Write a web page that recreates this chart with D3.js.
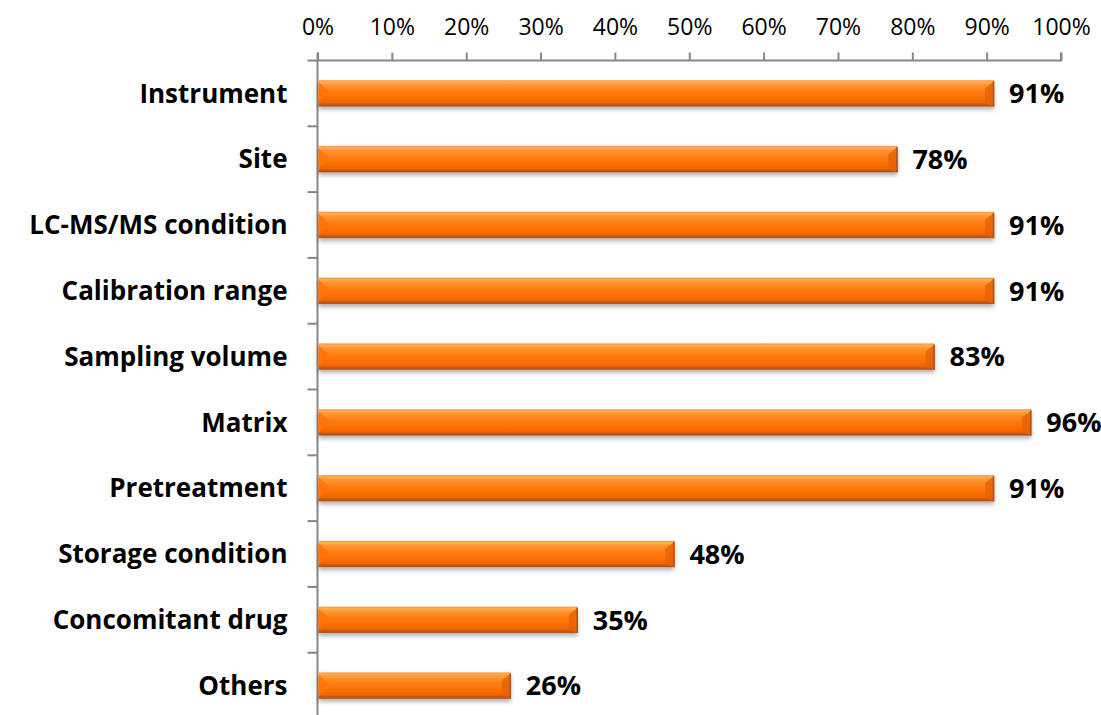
<!DOCTYPE html>
<html>
<head>
<meta charset="utf-8">
<script src="https://cdn.jsdelivr.net/npm/d3@7"></script>
<style>
  html, body { margin: 0; padding: 0; background: #fff; }
  svg { display: block; }
  text { font-family: "Open Sans", "Noto Sans", sans-serif; fill: #000; }
</style>
</head>
<body>
<svg id="chart" width="1101" height="715"></svg>
<script>
// Share of items reported, by category
const categories = [
  "Instrument", "Site", "LC-MS/MS condition", "Calibration range",
  "Sampling volume", "Matrix", "Pretreatment", "Storage condition",
  "Concomitant drug", "Others"
];
const percentages = [91, 78, 91, 91, 83, 96, 91, 48, 35, 26];
const tickValues = [0, 10, 20, 30, 40, 50, 60, 70, 80, 90, 100];

const svg = d3.select("#chart");
const margin = { left: 317.5, top: 60.5 };
const plotRight = 1061;
const bandStep = 65.8;
const plotBottom = margin.top + bandStep * categories.length;

const x = d3.scaleLinear().domain([0, 100]).range([margin.left, plotRight]);
const y = d3.scaleBand().domain(categories).range([margin.top, plotBottom]).paddingInner(0.6).paddingOuter(0.3);

// Bar shading: glossy orange with a dark lower edge
const defs = svg.append("defs");
const grad = defs.append("linearGradient")
  .attr("id", "barFill").attr("x1", 0).attr("y1", 0).attr("x2", 0).attr("y2", 1);
[
  [0, "#F78E3A"], [0.06, "#FFAE55"], [0.18, "#FF9534"], [0.42, "#FF7D12"],
  [0.7, "#FC6E02"], [0.86, "#EE6600"], [0.92, "#C65714"], [1, "#A4501E"]
].forEach(([o, c]) => grad.append("stop").attr("offset", o).attr("stop-color", c));

const shadow = defs.append("filter").attr("id", "barShadow")
  .attr("x", "-5%").attr("y", "-30%").attr("width", "110%").attr("height", "180%");
shadow.append("feDropShadow").attr("dx", 0).attr("dy", 3).attr("stdDeviation", 2)
  .attr("flood-color", "#000").attr("flood-opacity", 0.3);

// Top axis
const xAxis = d3.axisTop(x).tickValues(tickValues).tickFormat(d => d + "%").tickSize(8).tickPadding(18);
const gx = svg.append("g").attr("transform", `translate(0,${margin.top})`).call(xAxis);
gx.attr("font-family", null).attr("font-size", null);
gx.select(".domain").attr("stroke", "#878787").attr("stroke-width", 2).attr("d", `M${margin.left},-8V0H${plotRight}V-8`);
gx.selectAll(".tick line").attr("stroke", "#878787").attr("stroke-width", 2);
gx.selectAll(".tick text").style("font-size", "23px").attr("fill", "#000");

// Left axis: category separators
const gy = svg.append("g");
gy.append("line")
  .attr("x1", margin.left).attr("x2", margin.left)
  .attr("y1", margin.top).attr("y2", plotBottom)
  .attr("stroke", "#878787").attr("stroke-width", 2);
gy.selectAll("line.sep")
  .data(d3.range(categories.length + 1))
  .join("line").attr("class", "sep")
  .attr("x1", margin.left - 10).attr("x2", margin.left)
  .attr("y1", i => margin.top + i * bandStep).attr("y2", i => margin.top + i * bandStep)
  .attr("stroke", "#878787").attr("stroke-width", 2);

// Category labels
svg.append("g").selectAll("text")
  .data(categories)
  .join("text")
  .attr("x", margin.left - 30)
  .attr("y", d => y(d) + y.bandwidth() / 2)
  .attr("dy", "0.35em")
  .attr("text-anchor", "end")
  .style("font-size", "26px")
  .style("font-weight", "700")
  .text(d => d);

// Bars
const bars = svg.append("g").selectAll("g.bar")
  .data(categories.map((c, i) => ({ c, v: percentages[i] })))
  .join("g").attr("class", "bar");

bars.append("rect")
  .attr("x", x(0) + 1)
  .attr("y", d => y(d.c))
  .attr("width", d => x(d.v) - x(0) - 1)
  .attr("height", y.bandwidth())
  .attr("fill", "url(#barFill)")
  .attr("filter", "url(#barShadow)");

// bevelled ends
bars.append("path")
  .attr("d", d => {
    const x0 = x(0) + 1, t = y(d.c), h = y.bandwidth();
    return `M${x0},${t + 2}L${x0 + 10},${t + h * 0.42}L${x0},${t + h - 3}Z`;
  })
  .attr("fill", "#FF7408").attr("opacity", 0.85);
bars.append("path")
  .attr("d", d => {
    const x1 = x(d.v), t = y(d.c), h = y.bandwidth();
    return `M${x1},${t + 1}L${x1 - 9},${t + 8}L${x1 - 9},${t + h - 3}L${x1},${t + h}Z`;
  })
  .attr("fill", "#E66206").attr("opacity", 0.8);
bars.append("line")
  .attr("x1", d => x(d.v) - 0.5).attr("x2", d => x(d.v) - 0.5)
  .attr("y1", d => y(d.c) + 1).attr("y2", d => y(d.c) + y.bandwidth())
  .attr("stroke", "#A9521E").attr("stroke-width", 1.5);

// Value labels
bars.append("text")
  .attr("x", d => x(d.v) + 15)
  .attr("y", d => y(d.c) + y.bandwidth() / 2)
  .attr("dy", "0.36em")
  .style("font-size", "27px")
  .style("font-weight", "700")
  .text(d => d.v + "%");
</script>
</body>
</html>
